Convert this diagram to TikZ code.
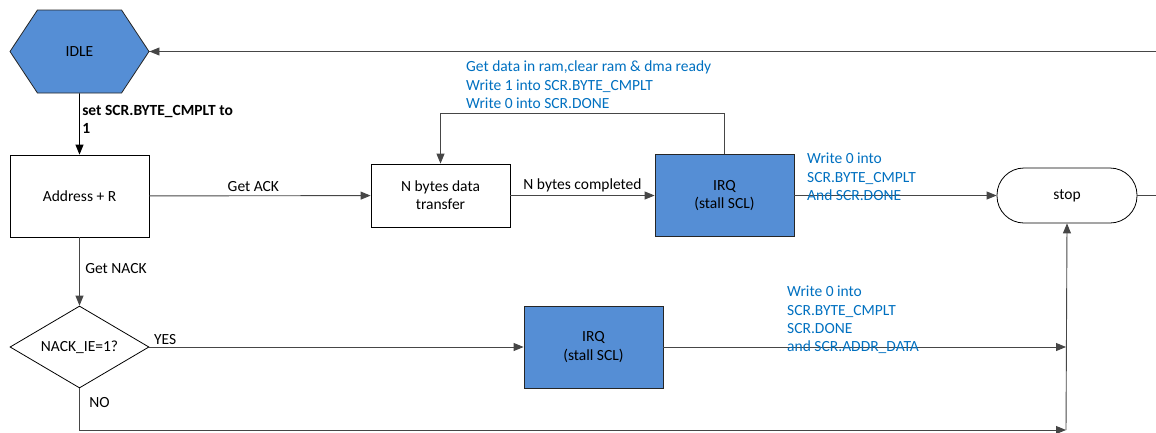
\documentclass[tikz,border=0pt]{standalone}
\usepackage{fontspec}
\setmainfont{Carlito}
\usetikzlibrary{shapes.geometric, shapes.symbols, arrows.meta}

\definecolor{stateblue}{RGB}{85,142,213}
\definecolor{noteblue}{RGB}{0,112,192}
\definecolor{linegray}{RGB}{70,70,70}

\begin{document}
\begin{tikzpicture}[
    x=1pt, y=-1pt,
    font=\fontsize{15.5}{18.3}\selectfont,
    % Node styling
    box/.style={draw=black, line width=0.8pt, rectangle, minimum width=139pt, minimum height=82pt, align=center, inner sep=2pt},
    irq/.style={box, fill=stateblue, draw=black!85},
    idlestate/.style={draw=black!85, line width=0.8pt, fill=stateblue, signal, signal to=west and east, signal pointer angle=113, minimum width=139pt, minimum height=83pt, inner sep=0pt},
    decision/.style={draw=black, line width=0.8pt, diamond, aspect=1.7, minimum width=139pt, minimum height=82pt, inner sep=0pt},
    terminal/.style={draw=black, line width=0.8pt, rectangle, rounded corners=27pt, minimum width=140pt, minimum height=55pt},
    note/.style={text=noteblue, align=left, anchor=north west, inner sep=0pt},
    % Arrow styling
    arrow/.style={-{Triangle[length=10pt, width=8pt]}, draw=linegray, line width=0.9pt},
    line/.style={draw=linegray, line width=0.9pt}
]
\useasboundingbox (0,0) rectangle (1156,432);
\clip (0,0) rectangle (1156,432);

% ---------------------------------------------------
% 1. NODES
% ---------------------------------------------------
\node[idlestate] (idle) at (79.5, 51.5) {IDLE};
\node[box] (addr) at (79.5, 196) {Address + R};
\node[box, minimum height=63pt] (xfer) at (440.5, 195.5) {N bytes data\\transfer};
\node[irq] (irqack) at (724.5, 195.5) {IRQ\\(stall SCL)};
\node[terminal] (stop) at (1067, 195.5) {stop};
\node[decision] (nackq) at (79.5, 347) {NACK\_IE=1?};
\node[irq] (irqnack) at (593.5, 347) {IRQ\\(stall SCL)};

\coordinate (yesjoin) at (1066, 347);
\coordinate (nojoin) at (1066, 430);

% ---------------------------------------------------
% 2. CONNECTIONS
% ---------------------------------------------------
\draw[arrow, draw=black] (idle) -- node[anchor=west, pos=0.42, align=left, font=\fontsize{15.5}{18.3}\selectfont\bfseries, xshift=-1pt] {set SCR.BYTE\_CMPLT to\\1} (addr);
\draw[arrow] (addr) -- node[above, pos=0.47] {Get ACK} (xfer);
\draw[arrow] (xfer) -- node[above, pos=0.5] {N bytes completed} (irqack);
\draw[arrow] (irqack.north) -- ++(0,-41) -| (xfer.north);
\draw[arrow] (irqack) -- (stop);
\draw[line] (stop.east) -- ++(40,0) |- (idle.east);
\draw[arrow] (idle.east) ++(1100,0) -- (idle.east);

\draw[arrow] (addr) -- node[right, pos=0.45, xshift=2pt] {Get NACK} (nackq);
\draw[arrow] (nackq.east) -- node[above right, pos=0, xshift=1pt, yshift=-1pt] {YES} (irqnack);
\draw[arrow] (irqnack) -- (yesjoin);
\draw[arrow] (nackq.south) |- node[right, pos=0.17, xshift=6pt] {NO} (nojoin);
\draw[arrow] (nojoin) -- (stop.south);

% ---------------------------------------------------
% 3. NOTES
% ---------------------------------------------------
\node[note] (noteloop) at (466, 61) {Get data in ram,clear ram \& dma ready\\Write 1 into SCR.BYTE\_CMPLT\\Write 0 into SCR.DONE};
\node[note] (notestop) at (807, 153) {Write 0 into\\SCR.BYTE\_CMPLT\\And SCR.DONE};
\node[note] (notenack) at (787, 286) {Write 0 into\\SCR.BYTE\_CMPLT\\SCR.DONE\\and SCR.ADDR\_DATA};

\end{tikzpicture}
\end{document}
